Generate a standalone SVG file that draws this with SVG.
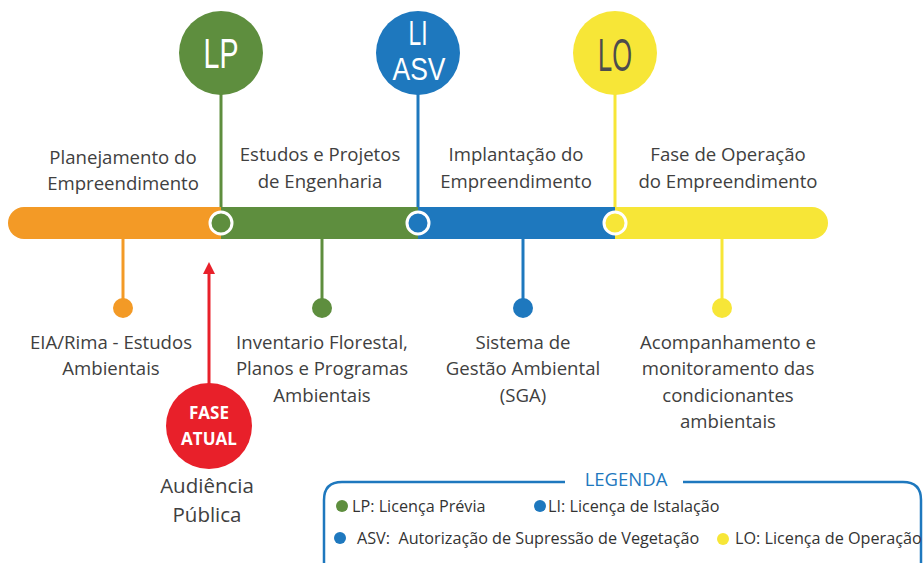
<svg xmlns="http://www.w3.org/2000/svg" width="923" height="563" viewBox="0 0 923 563">
<style>
.lbl{font-family:"Open Sans","Noto Sans",sans-serif;font-size:18.6px;fill:#404040;text-anchor:middle}
.lg{font-family:"Open Sans","Noto Sans",sans-serif;font-size:16.2px;fill:#333}
.big{font-family:"Liberation Sans","Arial",sans-serif;text-anchor:middle;fill:#fff}
.ring{stroke:#fff;stroke-width:3}
</style>
<defs>
<marker id="ah" viewBox="0 0 10 10" refX="5" refY="5" markerWidth="4" markerHeight="4" orient="auto-start-reverse">
<path d="M0,0 L10,5 L0,10 z" fill="#E8202A"/>
</marker>
<clipPath id="barclip"><rect x="8" y="207" width="820" height="32" rx="16"/></clipPath>
</defs>
<rect width="923" height="563" fill="#fff"/>
<g id="connectors">
<line x1="221" y1="94" x2="221" y2="211" stroke="#5E8E3E" stroke-width="3"/>
<line x1="418" y1="94" x2="418" y2="211" stroke="#1E78BE" stroke-width="3"/>
<line x1="615" y1="94" x2="615" y2="211" stroke="#F7E637" stroke-width="3"/>
<line x1="123" y1="239" x2="123" y2="300" stroke="#F39A26" stroke-width="3"/>
<line x1="322" y1="239" x2="322" y2="300" stroke="#5E8E3E" stroke-width="3"/>
<line x1="523" y1="239" x2="523" y2="300" stroke="#1E78BE" stroke-width="3"/>
<line x1="722" y1="239" x2="722" y2="300" stroke="#F7E637" stroke-width="3"/>
<line x1="209" y1="384" x2="209" y2="268" stroke="#E8202A" stroke-width="3" marker-end="url(#ah)"/>
</g>
<g id="bar">
<g clip-path="url(#barclip)">
<rect x="8" y="207" width="213" height="32" fill="#F39A26"/>
<rect x="221" y="207" width="197" height="32" fill="#5E8E3E"/>
<rect x="418" y="207" width="197" height="32" fill="#1E78BE"/>
<rect x="615" y="207" width="213" height="32" fill="#F7E637"/>
</g>
<circle cx="221" cy="223" r="11" fill="#5E8E3E" class="ring"/>
<circle cx="418" cy="223" r="11" fill="#1E78BE" class="ring"/>
<circle cx="615" cy="223" r="11" fill="#F7E637" class="ring"/>
</g>
<g id="LP">
<circle cx="221" cy="53" r="42" fill="#5E8E3E"/>
<text x="221" y="68" class="big" font-size="43" textLength="35" lengthAdjust="spacingAndGlyphs">LP</text>
</g>
<g id="LI">
<circle cx="418" cy="53" r="42" fill="#1E78BE"/>
<text x="418" y="45" class="big" font-size="35" textLength="19" lengthAdjust="spacingAndGlyphs">LI</text>
<text x="419" y="80" class="big" font-size="31" textLength="53" lengthAdjust="spacingAndGlyphs">ASV</text>
</g>
<g id="LO">
<circle cx="615" cy="53" r="42" fill="#F7E637"/>
<text x="615" y="71" class="big" font-size="47" style="fill:#4d4d4d" textLength="34" lengthAdjust="spacingAndGlyphs">LO</text>
</g>
<g id="phase1">
<text class="lbl" x="123" y="164">Planejamento do</text>
<text class="lbl" x="123" y="190">Empreendimento</text>
</g>
<g id="phase2">
<text class="lbl" x="320" y="161">Estudos e Projetos</text>
<text class="lbl" x="320" y="188">de Engenharia</text>
</g>
<g id="phase3">
<text class="lbl" x="516" y="161">Implantação do</text>
<text class="lbl" x="516" y="188">Empreendimento</text>
</g>
<g id="phase4">
<text class="lbl" x="728" y="161">Fase de Operação</text>
<text class="lbl" x="728" y="188">do Empreendimento</text>
</g>
<g id="item1">
<circle cx="123" cy="308" r="10" fill="#F39A26"/>
<text class="lbl" x="111" y="349">EIA/Rima - Estudos</text>
<text class="lbl" x="111" y="375">Ambientais</text>
</g>
<g id="item2">
<circle cx="322" cy="308" r="10" fill="#5E8E3E"/>
<text class="lbl" x="322" y="349">Inventario Florestal,</text>
<text class="lbl" x="322" y="375">Planos e Programas</text>
<text class="lbl" x="322" y="402">Ambientais</text>
</g>
<g id="item3">
<circle cx="523" cy="308" r="10" fill="#1E78BE"/>
<text class="lbl" x="523" y="349">Sistema de</text>
<text class="lbl" x="523" y="375">Gestão Ambiental</text>
<text class="lbl" x="523" y="402">(SGA)</text>
</g>
<g id="item4">
<circle cx="722" cy="308" r="10" fill="#F7E637"/>
<text class="lbl" x="728" y="349">Acompanhamento e</text>
<text class="lbl" x="728" y="375">monitoramento das</text>
<text class="lbl" x="728" y="402">condicionantes</text>
<text class="lbl" x="728" y="428">ambientais</text>
</g>
<g id="fase-atual">
<circle cx="209" cy="426" r="43" fill="#E8202A"/>
<text x="209" y="419" font-family="'Open Sans','Noto Sans',sans-serif" font-weight="bold" font-size="17" fill="#fff" text-anchor="middle">FASE</text>
<text x="209" y="445" font-family="'Open Sans','Noto Sans',sans-serif" font-weight="bold" font-size="17" fill="#fff" text-anchor="middle">ATUAL</text>
<text class="lbl" x="207" y="493" style="font-size:20.5px">Audiência</text>
<text class="lbl" x="207" y="522" style="font-size:20.5px">Pública</text>
</g>
<g id="legend">
<path d="M565,482 L342,482 Q324,482 324,500 L324,570 M683,482 L903,482 Q921,482 921,500 L921,570" fill="none" stroke="#1E78BE" stroke-width="2.5"/>
<text x="626" y="486" font-family="'Open Sans','Noto Sans',sans-serif" font-size="18.5" fill="#1E78BE" text-anchor="middle">LEGENDA</text>
<circle cx="342" cy="506" r="6" fill="#5E8E3E"/>
<text class="lg" x="352" y="512">LP: Licença Prévia</text>
<circle cx="540" cy="506" r="6" fill="#1E78BE"/>
<text class="lg" x="548" y="512">LI: Licença de Istalação</text>
<circle cx="340" cy="538" r="6" fill="#1E78BE"/>
<text class="lg" x="357" y="544" xml:space="preserve">ASV:  Autorização de Supressão de Vegetação</text>
<circle cx="723" cy="539" r="6" fill="#F7E637"/>
<text class="lg" x="735" y="544">LO: Licença de Operação</text>
</g>
</svg>
